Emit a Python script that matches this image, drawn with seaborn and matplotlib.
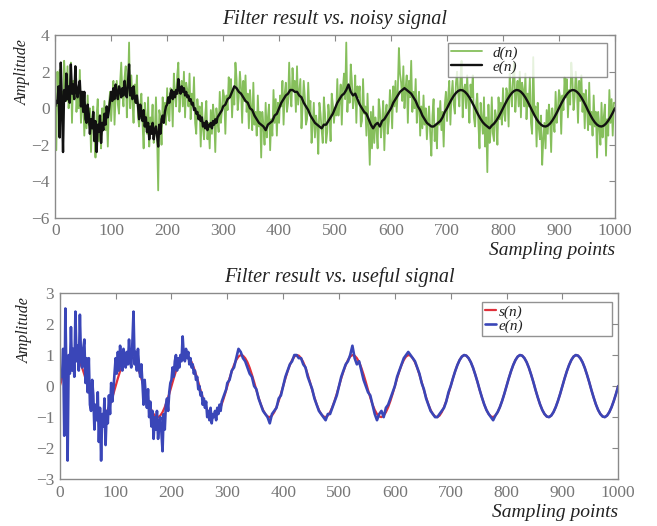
import numpy as np
import pandas as pd
import matplotlib
matplotlib.use("Agg")
import matplotlib.pyplot as plt
import seaborn as sns

# ---- data ----
# sampling indices used for each series
n_d = list(range(0, 1001, 2))                                  # noisy d(n), every 2nd point
n_e = list(range(0, 300, 2)) + list(range(300, 1001, 4))      # filter output e(n)
n_s = list(range(0, 1001, 4))                                  # useful signal s(n)

s_n = [
    0, .25, .48, .68, .84, .95, 1.0, .98, .90, .77, .59, .37, .13, -.13, -.37, -.59, -.77, -.90, -.98, -1.0, -.95, -.84, -.68, -.48, -.25,
    0, .25, .48, .68, .84, .95, 1.0, .98, .90, .77, .59, .37, .13, -.13, -.37, -.59, -.77, -.90, -.98, -1.0, -.95, -.84, -.68, -.48, -.25,
    0, .25, .48, .68, .84, .95, 1.0, .98, .90, .77, .59, .37, .13, -.13, -.37, -.59, -.77, -.90, -.98, -1.0, -.95, -.84, -.68, -.48, -.25,
    0, .25, .48, .68, .84, .95, 1.0, .98, .90, .77, .59, .37, .13, -.13, -.37, -.59, -.77, -.90, -.98, -1.0, -.95, -.84, -.68, -.48, -.25,
    0, .25, .48, .68, .84, .95, 1.0, .98, .90, .77, .59, .37, .13, -.13, -.37, -.59, -.77, -.90, -.98, -1.0, -.95, -.84, -.68, -.48, -.25,
    0, .25, .48, .68, .84, .95, 1.0, .98, .90, .77, .59, .37, .13, -.13, -.37, -.59, -.77, -.90, -.98, -1.0, -.95, -.84, -.68, -.48, -.25,
    0, .25, .48, .68, .84, .95, 1.0, .98, .90, .77, .59, .37, .13, -.13, -.37, -.59, -.77, -.90, -.98, -1.0, -.95, -.84, -.68, -.48, -.25,
    0, .25, .48, .68, .84, .95, 1.0, .98, .90, .77, .59, .37, .13, -.13, -.37, -.59, -.77, -.90, -.98, -1.0, -.95, -.84, -.68, -.48, -.25,
    0, .25, .48, .68, .84, .95, 1.0, .98, .90, .77, .59, .37, .13, -.13, -.37, -.59, -.77, -.90, -.98, -1.0, -.95, -.84, -.68, -.48, -.25,
    0, .25, .48, .68, .84, .95, 1.0, .98, .90, .77, .59, .37, .13, -.13, -.37, -.59, -.77, -.90, -.98, -1.0, -.95, -.84, -.68, -.48, -.25,
    0,
]

d_n = [
    0.4, -2.3, 2.0, 0.1, 2.1, -0.2, 0.9, -0.7, 2.6, 1.4, 0.4, 2.3, 0.0, 1.1, 2.5, -0.8, 1.5, 0.6, 2.2, -0.2, 0.9, 0.0, 2.1, -0.8, 0.1, 0.9, -1.5, 0.1, -1.1, 0.7, -0.9, 0.0, -2.4, -0.6, 0.1, -1.4, -2.7, -0.4, 0.5, -1.8, -0.9, -2.2, 0.0, -0.9, 0.4, -1.2, -0.2, -2.1, 0.2, 0.9,
    -0.7, 0.6, 1.5, -0.9, 0.7, 1.5, 0.2, -0.3, 1.4, 2.5, 0.8, 0.1, 1.7, 2.3, -0.5, 1.0, 3.6, 0.0, 1.8, 0.4, -0.8, 1.3, 0.6, 1.8, -0.5, -1.0, 0.2, 0.8, -0.8, -2.2, 0.3, -0.6, -1.4, 0.6, -2.1, -0.5, -1.0, 0.2, -1.9, -1.3, 0.6, -1.4, -4.5, -0.1, -0.5, -2.0, 0.6, -0.6, 0.3, -0.9,
    1.1, -0.3, -0.7, 1.1, 0.8, -1.0, 1.9, 0.8, 0.1, 1.8, 2.5, -0.2, 0.9, 1.5, 0.1, 2.0, -0.5, 1.4, 1.0, 0.1, 1.9, -0.6, 0.8, 0.1, 1.7, -0.8, -1.4, 0.5, -0.3, 0.1, -2.1, 0.3, -1.1, -1.7, -0.4, 0.4, -1.7, -0.8, -2.2, -0.1, -1.4, 0.2, -0.5, -2.4, 0.0, -0.7, -1.3, 0.9, -0.8, -0.1,
    1.0, 0.6, -1.4, 0.7, -0.1, 1.7, 0.6, 1.6, -0.5, 1.0, 0.2, 2.5, 1.6, -0.1, 0.6, 2.0, 1.1, -0.8, 1.5, 0.4, 1.8, -0.2, 0.8, -1.1, 1.0, 0.0, -1.2, 1.4, -0.9, -0.2, -1.5, 0.7, -1.0, -0.2, -2.7, -0.2, -0.9, -2.0, 0.3, -1.6, -0.5, 0.2, -2.3, -0.6, -1.5, 1.0, -0.8, 0.5, -1.5, 0.3,
    -0.8, 0.7, 0.1, 1.5, -0.9, 0.8, 1.4, -0.2, 0.3, 2.5, 0.7, 0.1, 2.2, 1.0, 1.5, -0.2, 2.3, 0.2, 0.9, 1.6, -1.1, 0.1, 1.5, 0.6, -0.9, -0.6, 1.4, -0.1, 0.4, -1.9, -0.9, 0.3, -1.6, -0.4, -0.9, -2.5, 0.3, -0.3, -1.2, -1.9, 0.6, -0.3, -1.9, -1.3, 0.2, -0.4, -1.8, 0.8, 0.2, -0.8,
    0.0, -0.4, 1.6, -0.4, 0.4, 1.3, -0.9, 1.1, 1.9, 0.5, 3.6, -0.2, 1.2, 0.3, 2.4, 1.5, 0.0, 0.5, 1.8, -0.8, 1.2, 0.6, 1.2, -1.0, -0.7, 1.6, -0.3, 0.1, -1.5, 0.8, -1.2, -3.1, -0.2, -2.2, 0.1, -1.9, -0.5, -1.1, -2.2, 0.5, -0.1, -1.6, -0.8, 0.4, -2.3, -0.3, 0.2, -1.4, -0.7, 1.0,
    0.4, -1.1, 1.2, 0.1, 1.5, -0.2, 0.9, 3.3, 1.9, 1.4, 0.4, 2.3, 0.0, 1.1, 1.8, -0.8, 1.5, 0.6, 2.6, -0.2, 0.9, 0.0, 1.6, -0.8, 0.1, 0.9, -1.5, 0.1, -1.1, 0.7, -0.9, 0.0, -1.7, -0.6, 0.1, -1.4, -2.6, -0.4, 0.5, -1.8, -0.9, -2.2, 0.0, -0.9, 0.4, -1.2, -0.2, -2.1, 0.2, 0.9,
    -0.7, 0.6, 1.5, -0.9, 0.7, 1.5, 0.2, -0.3, 1.4, 2.0, 0.8, 0.1, 1.7, 2.6, -0.5, 1.0, 1.3, 0.0, 1.8, 0.4, -0.8, 1.3, 0.6, 1.8, -0.5, -1.0, 0.2, 0.8, -0.8, -2.2, 0.3, -0.6, -1.4, 0.6, -2.1, -0.5, -3.5, 0.2, -1.9, -1.3, 0.6, -1.4, -1.8, -0.1, -0.5, -2.0, 0.6, -0.6, 0.3, -0.9,
    1.1, -0.3, -0.7, 1.1, 0.8, -1.0, 1.9, 0.8, 0.1, 1.8, 2.5, -0.2, 0.9, 1.5, 0.1, 2.0, -0.5, 1.4, 1.0, 0.1, 1.9, -0.6, 0.8, 0.1, 1.7, -0.8, -1.4, 2.8, -0.3, 0.1, -2.1, 0.3, -1.1, -1.7, -0.4, -3.1, -1.7, -0.8, -2.2, -0.1, -1.4, 0.2, -0.5, -2.4, 0.0, -0.7, -1.3, 0.9, -0.8, -0.1,
    1.0, 0.6, -1.4, 0.7, -0.1, 1.7, 0.6, 1.6, -0.5, 1.0, 0.2, 2.5, 1.6, -0.1, 0.6, 2.0, 1.1, -0.8, 1.5, 0.4, 1.8, -0.2, 0.8, -1.1, 1.0, 0.0, -1.2, 1.4, -0.9, -0.2, -1.5, 0.7, -1.0, -0.2, -2.7, -0.2, -0.9, -2.0, 0.3, -1.6, -0.5, 0.2, -2.6, -0.6, -1.5, 1.0, -0.8, 0.5, -1.5, 0.3,
    0.3,
]

e_n = [
    # n = 0 .. 298, every 2nd point
    0.1, 0.4, 0.3, 1.2, -1.6, 2.5, 0.2, -2.4, 1.0, 0.4, 1.9, 0.5, 1.2, 0.3, 2.4, 0.8, 1.3, 0.5, 2.3, 0.9, 0.6, 1.2, 1.5, 0.1, 0.9, -0.2, 0.9, -0.6, -0.8, 0.2, -0.3, -1.4, -0.6, -1.1, -0.2, -1.8, -0.7, -2.4, -0.9, -1.3, -0.4, -1.9, -0.8, -1.2, -0.3, -0.9, 0.1, -0.5, -0.1, 0.4,
    0.9, 0.4, 1.1, 0.5, 1.3, 0.8, 0.5, 1.2, 1.0, 0.6, 1.1, 0.7, 1.5, 0.8, 0.6, 1.4, 2.4, 0.7, 1.1, 0.5, 1.2, 0.6, 0.3, 0.7, 0.1, -0.6, 0.2, -0.3, -0.7, -0.1, -1.0, -0.5, -1.3, -0.8, -1.7, -1.0, -1.4, -0.8, -1.7, -1.2, -1.0, -1.5, -2.1, -0.9, -1.4, -0.6, -0.4, -0.8, -0.2, 0.1,
    0.2, 0.6, 0.3, 0.8, 1.0, 0.5, 0.9, 0.6, 1.0, 0.8, 1.6, 1.0, 0.8, 1.2, 0.9, 1.1, 0.7, 0.9, 0.6, 0.7, 0.4, 0.5, 0.2, 0.3, -0.1, 0.0, -0.3, -0.2, -0.6, -0.4, -0.7, -0.5, -1.0, -0.8, -1.1, -0.7, -1.2, -0.9, -1.0, -0.8, -1.1, -0.7, -0.9, -0.6, -0.8, -0.5, -0.4, -0.3, -0.2, -0.1,
    # n = 300 .. 1000, every 4th point
    0.1, 0.2, 0.5, 0.6, 0.9, 1.2, 1.1, 0.9, 0.8, 0.6, 0.4, 0.3, 0.0, -0.1, -0.4, -0.6, -0.8, -0.9, -1.0, -1.2, -0.9, -0.8, -0.7, -0.4, -0.3,
    0.0, 0.3, 0.5, 0.7, 0.8, 1.0, 1.0, 0.9, 0.9, 0.7, 0.6, 0.3, 0.1, -0.1, -0.4, -0.6, -0.8, -0.9, -1.0, -1.1, -0.9, -0.9, -0.7, -0.5, -0.3,
    0.0, 0.3, 0.5, 0.7, 0.8, 1.0, 1.3, 0.9, 0.7, 0.8, 0.5, 0.2, 0.0, -0.2, -0.3, -0.6, -0.9, -1.1, -0.9, -0.8, -1.0, -0.7, -0.6, -0.4, -0.2,
    0.0, 0.3, 0.5, 0.7, 0.9, 1.0, 1.1, 1.0, 0.9, 0.8, 0.6, 0.4, 0.1, -0.1, -0.4, -0.6, -0.8, -0.9, -1.0, -1.0, -0.9, -0.8, -0.7, -0.5, -0.2,
    0, .25, .48, .68, .84, .95, 1.0, .98, .90, .77, .59, .37, .13, -.13, -.37, -.59, -.77, -.90, -1.0, -1.1, -.95, -.84, -.68, -.48, -.25,
    0, .25, .48, .68, .84, .95, 1.0, .98, .90, .77, .59, .37, .13, -.13, -.37, -.59, -.77, -.90, -.98, -1.0, -.95, -.84, -.68, -.48, -.25,
    0, .25, .48, .68, .84, .95, 1.0, .98, .90, .77, .59, .37, .13, -.13, -.37, -.59, -.77, -.90, -.98, -1.0, -.95, -.84, -.68, -.48, -.25,
    0,
]

x_ticks = [0, 100, 200, 300, 400, 500, 600, 700, 800, 900, 1000]
y_ticks_top = [-6, -4, -2, 0, 2, 4]
y_ticks_bot = [-3, -2, -1, 0, 1, 2, 3]
titles = ["Filter result vs. noisy signal", "Filter result vs. useful signal"]

# ---- style ----
sns.set_style("white")
plt.rcParams["font.family"] = ["Liberation Serif", "DejaVu Serif"]

fig = plt.figure(figsize=(6.57, 5.26), dpi=100)
ax1 = fig.add_axes([0.084, 0.586, 0.852, 0.347])
ax2 = fig.add_axes([0.091, 0.089, 0.850, 0.354])

green = "#86bf5c"
red = "#e0303a"
blue = "#3a46b8"
tick_color = "#777777"
label_color = "#222222"

sns.lineplot(x=n_d, y=d_n, ax=ax1, color=green, linewidth=1.3,
             label="d(n)", estimator=None)
sns.lineplot(x=n_e, y=e_n, ax=ax1, color="#111111", linewidth=1.7,
             label="e(n)", estimator=None)

sns.lineplot(x=n_s, y=s_n, ax=ax2, color=red, linewidth=1.6,
             label="s(n)", estimator=None)
sns.lineplot(x=n_e, y=e_n, ax=ax2, color=blue, linewidth=1.9,
             label="e(n)", estimator=None)

for ax, yt, title, lx in [(ax1, y_ticks_top, titles[0], -0.043),
                          (ax2, y_ticks_bot, titles[1], -0.048)]:
    ax.set_xlim(0, 1000)
    ax.set_ylim(yt[0], yt[-1])
    ax.set_xticks(x_ticks)
    ax.set_yticks(yt)
    ax.set_yticklabels([str(v) if v >= 0 else "\u2212" + str(-v) for v in yt])
    ax.tick_params(axis="both", which="both", direction="in", top=True,
                   right=True, length=4, width=0.8, color="#888888",
                   labelsize=12.5, labelcolor=tick_color, pad=4)
    for sp in ax.spines.values():
        sp.set_color("#8a8a8a")
        sp.set_linewidth(1.0)
    ax.set_title(title, fontsize=14.5, style="italic", color=label_color, pad=8)
    ax.set_xlabel("Sampling points", fontsize=14, style="italic",
                  color=label_color, loc="right", labelpad=2)
    ax.set_ylabel("Amplitude", fontsize=11.5, style="italic", color=label_color)
    ax.yaxis.set_label_coords(lx, 0.80)
    ax.grid(False)

leg1 = ax1.legend(loc="upper left", bbox_to_anchor=(0.702, 0.787, 0.284, 0.17),
                  mode="expand", frameon=True, fancybox=False,
                  edgecolor="#777777", fontsize=11, handlelength=2.0,
                  handletextpad=0.7, labelspacing=0.0, borderpad=0.2,
                  borderaxespad=0)
leg2 = ax2.legend(loc="upper left", bbox_to_anchor=(0.756, 0.785, 0.233, 0.167),
                  mode="expand", frameon=True, fancybox=False,
                  edgecolor="#777777", fontsize=11, handlelength=0.7,
                  handletextpad=0.2, labelspacing=0.0, borderpad=0.2,
                  borderaxespad=0)
for leg in (leg1, leg2):
    leg.get_frame().set_linewidth(1.0)
    for t in leg.get_texts():
        t.set_style("italic")
        t.set_color(label_color)

fig.savefig("out.png", dpi=100, facecolor="white")
